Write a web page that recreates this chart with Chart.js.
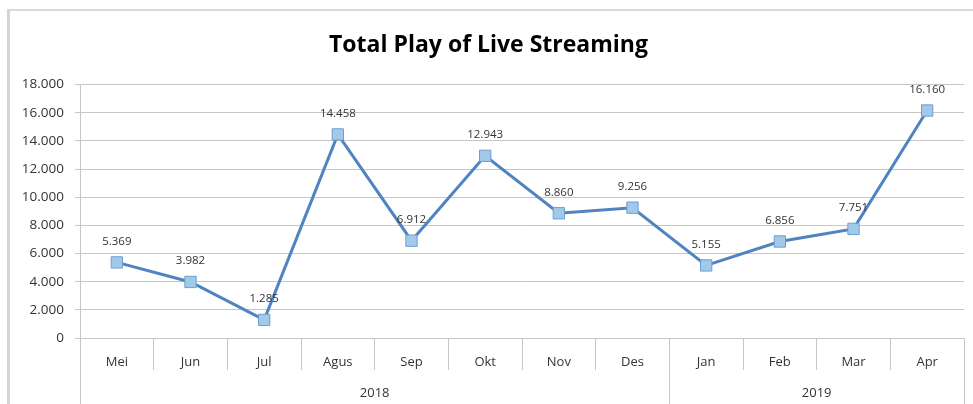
<!DOCTYPE html>
<html>
<head>
<meta charset="utf-8">
<script src="https://cdn.jsdelivr.net/npm/chart.js@4/dist/chart.umd.min.js"></script>
<style>
  html, body { margin: 0; padding: 0; background: #fff; }
  #wrap { position: relative; width: 973px; height: 404px; }
  #frame { position: absolute; left: 7px; top: 9px; right: 0; bottom: 0;
           border-left: 3px solid #d4d4d4; border-top: 2px solid #dadada; pointer-events: none; }
  canvas { position: absolute; left: 0; top: 0; }
</style>
</head>
<body>
<div id="wrap">
  <canvas id="c" width="973" height="404"></canvas>
  <div id="frame"></div>
</div>
<script>
const months = ['Mei','Jun','Jul','Agus','Sep','Okt','Nov','Des','Jan','Feb','Mar','Apr'];
const plays = [5369, 3982, 1285, 14458, 6912, 12943, 8860, 9256, 5155, 6856, 7751, 16160];
const years = ['2018', '2019'];
const yearMonthCounts = [8, 4];
const yTicks = [0, 2000, 4000, 6000, 8000, 10000, 12000, 14000, 16000, 18000];

const fmt = v => String(Math.round(v)).replace(/\B(?=(\d{3})+(?!\d))/g, '.');

const yearBounds = [0];
yearMonthCounts.forEach(n => yearBounds.push(yearBounds[yearBounds.length - 1] + n));
const yearCenters = yearMonthCounts.map((n, i) => yearBounds[i] + n / 2);

const FONT = "'Open Sans', 'Liberation Sans', sans-serif";
const GRID = '#c6c6c6';
const TXT = '#333333';

const dataLabels = {
  id: 'dataLabels',
  afterDatasetsDraw(chart) {
    const ctx = chart.ctx;
    const meta = chart.getDatasetMeta(0);
    ctx.save();
    ctx.font = "11.5px " + FONT;
    ctx.fillStyle = TXT;
    ctx.textAlign = 'center';
    ctx.textBaseline = 'middle';
    meta.data.forEach((pt, i) => {
      ctx.fillText(fmt(chart.data.datasets[0].data[i]), pt.x, pt.y - 21);
    });
    ctx.restore();
  }
};

new Chart(document.getElementById('c'), {
  type: 'line',
  data: {
    labels: months,
    datasets: [{
      data: plays,
      borderColor: '#4f84c0',
      borderWidth: 3,
      pointStyle: 'rect',
      pointRadius: 8,
      pointBackgroundColor: '#a3c9e8',
      pointBorderColor: '#6d9ed3',
      pointBorderWidth: 1,
      tension: 0,
      fill: false
    }]
  },
  options: {
    responsive: false,
    animation: false,
    layout: { padding: { left: 0, right: -4, top: 0, bottom: 0 } },
    plugins: {
      legend: { display: false },
      tooltip: { enabled: false },
      title: {
        display: true,
        text: 'Total Play of Live Streaming',
        color: '#000',
        font: { family: FONT, size: 23, weight: 'bold' },
        padding: { top: 32, bottom: 25 }
      }
    },
    scales: {
      y: {
        min: 0, max: 18000,
        afterBuildTicks: s => { s.ticks = yTicks.map(v => ({ value: v })); },
        afterFit: s => { s.width = 80; },
        ticks: {
          callback: v => fmt(v),
          color: TXT,
          font: { family: FONT, size: 13.5 },
          padding: 11
        },
        grid: { color: GRID, lineWidth: 1, tickLength: 5, drawTicks: true },
        border: { display: true, color: GRID, width: 1 }
      },
      x: {
        type: 'category',
        offset: true,
        position: 'bottom',
        afterFit: s => { s.height = 32; },
        grid: { offset: true, drawOnChartArea: false, tickLength: 32, color: GRID, lineWidth: 1 },
        border: { display: true, color: GRID, width: 1 },
        ticks: {
          color: TXT,
          font: { family: FONT, size: 13 },
          padding: -16,
          autoSkip: false,
          maxRotation: 0
        }
      },
      yr: {
        type: 'linear',
        axis: 'x',
        position: 'bottom',
        min: 0, max: months.length,
        afterFit: s => { s.height = 34; },
        afterBuildTicks: s => {
          const vals = [...yearBounds, ...yearCenters].sort((a, b) => a - b);
          s.ticks = vals.map(v => ({ value: v }));
        },
        grid: {
          drawOnChartArea: false,
          tickLength: 34,
          lineWidth: 1,
          color: c => (c.tick && yearBounds.includes(c.tick.value)) ? GRID : 'rgba(0,0,0,0)'
        },
        border: { display: false },
        ticks: {
          autoSkip: false,
          maxRotation: 0,
          color: TXT,
          font: { family: FONT, size: 13 },
          padding: -19,
          callback: v => { const i = yearCenters.indexOf(v); return i >= 0 ? years[i] : ''; }
        }
      }
    }
  },
  plugins: [dataLabels]
});
</script>
</body>
</html>
